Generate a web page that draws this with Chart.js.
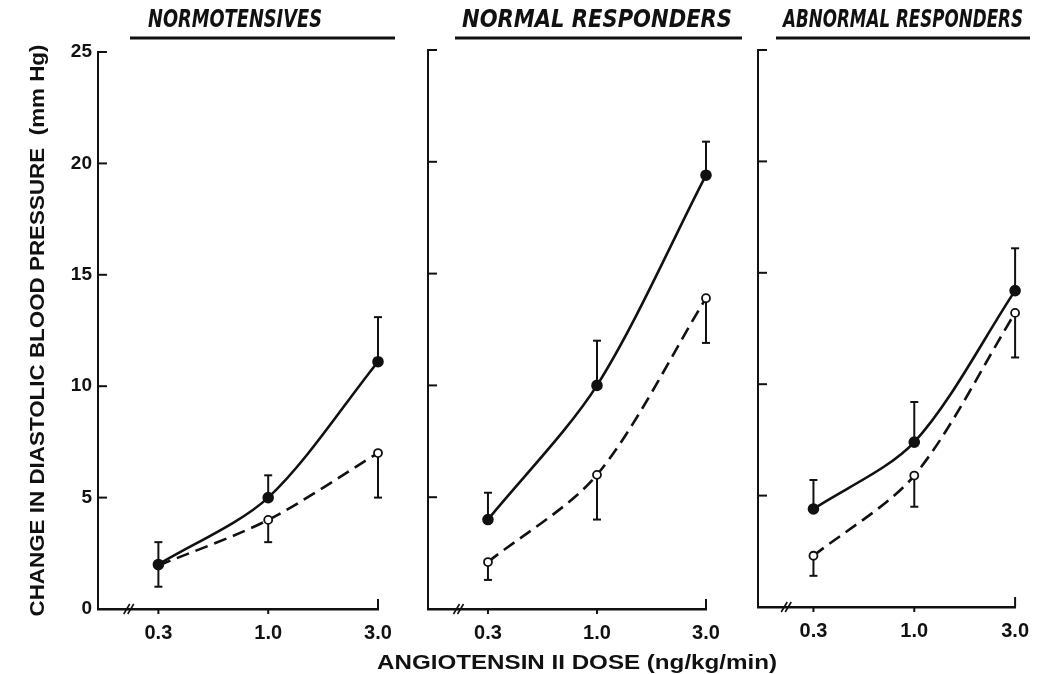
<!DOCTYPE html>
<html>
<head>
<meta charset="utf-8">
<script src="https://cdn.jsdelivr.net/npm/chart.js@4.4.0/dist/chart.umd.min.js"></script>
<style>
  html, body { margin: 0; padding: 0; background: #fff; }
  .panel { position: absolute; left: 0; top: 0; width: 1041px; height: 674px; }
</style>
</head>
<body>
<div class="panel"><canvas id="p1"></canvas></div>
<div class="panel"><canvas id="p2"></canvas></div>
<div class="panel"><canvas id="p3"></canvas></div>
<script>
// dose categories and y ticks
const doses = ['0.3', '1.0', '3.0'];
const yTicks = [0, 5, 10, 15, 20, 25];

// Normotensives: filled = solid line (error bar up), open = dashed (error bar down)
const normoFilled = [2, 5, 11.1];
const normoFilledErr = [1, 1, 2];
const normoOpen = [1.95, 4, 7];
const normoOpenErr = [0.95, 1, 2];

// Normal responders
const normalFilled = [4, 10, 19.4];
const normalFilledErr = [1.2, 2, 1.5];
const normalOpen = [2.1, 6, 13.9];
const normalOpenErr = [0.8, 2, 2];

// Abnormal responders
const abnormalFilled = [4.4, 7.4, 14.2];
const abnormalFilledErr = [1.3, 1.8, 1.9];
const abnormalOpen = [2.3, 5.9, 13.2];
const abnormalOpenErr = [0.9, 1.4, 2];

const ink = '#111';
const labelFont = '"Liberation Sans", Arial, sans-serif';

function line(ctx, x1, y1, x2, y2) {
  ctx.beginPath();
  ctx.moveTo(x1, y1);
  ctx.lineTo(x2, y2);
  ctx.stroke();
}

// text squeezed/stretched to a given width
function fitText(ctx, text, x, y, width) {
  const w = ctx.measureText(text).width;
  ctx.save();
  ctx.translate(x, y);
  ctx.scale(width / w, 1);
  ctx.fillText(text, 0, 0);
  ctx.restore();
}

// error bars, inward ticks, axis break, titles
const deco = {
  id: 'deco',
  beforeDatasetsDraw(chart) {
    const ctx = chart.ctx, xs = chart.scales.x, ys = chart.scales.y;
    ctx.save();
    ctx.strokeStyle = ink;
    ctx.lineWidth = 2;
    chart.data.datasets.forEach(ds => {
      ds.data.forEach((p, i) => {
        const px = xs.getPixelForValue(p.x);
        const y0 = ys.getPixelForValue(p.y);
        const y1 = ys.getPixelForValue(p.y + ds.errDir * ds.err[i]);
        line(ctx, px, y0, px, y1);
        line(ctx, px - 4, y1, px + 4, y1);
      });
    });
    ctx.restore();
  },
  afterDraw(chart, args, o) {
    const ctx = chart.ctx, xs = chart.scales.x, ys = chart.scales.y;
    const a = chart.chartArea;
    ctx.save();
    ctx.strokeStyle = ink;
    ctx.fillStyle = ink;
    ctx.lineWidth = 2;
    // y ticks pointing into the panel
    yTicks.forEach(v => {
      if (v === 0) return;
      const py = ys.getPixelForValue(v);
      line(ctx, a.left, py, a.left + 9, py);
    });
    // x ticks: small downward marks, end cap upward
    doses.forEach((d, i) => {
      const px = xs.getPixelForValue(i);
      if (i === doses.length - 1) line(ctx, px, a.bottom, px, a.bottom - 10);
      else line(ctx, px, a.bottom, px, a.bottom + 5);
    });
    // axis break
    const bx = xs.getPixelForValue(-0.27);
    ctx.lineWidth = 1.6;
    line(ctx, bx - 5, a.bottom + 5, bx + 1, a.bottom - 5);
    line(ctx, bx - 1, a.bottom + 5, bx + 5, a.bottom - 5);
    // panel title with underline
    ctx.font = 'italic bold 25px "Liberation Sans Narrow", "DejaVu Sans Condensed", sans-serif';
    ctx.textAlign = 'center';
    ctx.textBaseline = 'alphabetic';
    fitText(ctx, o.title, o.titleX, 27, o.titleW);
    ctx.lineWidth = 3;
    line(ctx, o.ulFrom, 38, o.ulTo, 38);
    // shared axis titles
    ctx.font = 'bold 20px ' + labelFont;
    ctx.textBaseline = 'middle';
    if (o.yTitle) {
      ctx.save();
      ctx.translate(38, (a.top + a.bottom) / 2);
      ctx.rotate(-Math.PI / 2);
      fitText(ctx, o.yTitle, 0, 0, 572);
      ctx.restore();
    }
    if (o.xTitle) {
      fitText(ctx, o.xTitle, 577, 663, 400);
    }
    ctx.restore();
  }
};

function makePanel(id, filled, filledErr, open, openErr, box, opts) {
  const yW = box.showY ? 40 : 0;
  const xH = 40;
  return new Chart(document.getElementById(id), {
    type: 'line',
    data: {
      datasets: [{
        data: filled.map((v, i) => ({ x: i, y: v })),
        err: filledErr,
        errDir: 1,
        borderColor: ink,
        borderWidth: 2.6,
        pointRadius: 4.5,
        pointBackgroundColor: ink,
        pointBorderColor: ink,
        tension: 0.3,
        clip: false
      }, {
        data: open.map((v, i) => ({ x: i, y: v })),
        err: openErr,
        errDir: -1,
        borderColor: ink,
        borderWidth: 2.6,
        borderDash: [13, 7],
        pointRadius: 4,
        pointBorderWidth: 1.8,
        pointBackgroundColor: '#fff',
        pointBorderColor: ink,
        tension: 0.3,
        clip: false
      }]
    },
    options: {
      responsive: true,
      maintainAspectRatio: false,
      animation: false,
      layout: {
        padding: {
          left: box.l - yW,
          right: 1041 - box.r,
          top: box.t,
          bottom: 674 - box.b - xH
        }
      },
      plugins: {
        legend: { display: false },
        tooltip: { enabled: false },
        deco: opts
      },
      scales: {
        x: {
          type: 'linear',
          min: -0.55,
          max: 2,
          afterBuildTicks: s => { s.ticks = doses.map((d, i) => ({ value: i })); },
          afterFit: s => { s.height = xH; },
          ticks: {
            callback: v => doses[v],
            color: ink,
            padding: 12,
            maxRotation: 0,
            font: { family: labelFont, size: 20, weight: 'bold' }
          },
          grid: { drawOnChartArea: false, drawTicks: false },
          border: { display: true, color: ink, width: 2.4 }
        },
        y: {
          min: 0,
          max: 25,
          afterBuildTicks: s => { s.ticks = yTicks.map(v => ({ value: v })); },
          afterFit: s => { s.width = yW; },
          ticks: {
            display: box.showY,
            color: ink,
            padding: 6,
            font: { family: labelFont, size: 19, weight: 'bold' }
          },
          grid: { drawOnChartArea: false, drawTicks: false },
          border: { display: true, color: ink, width: 2 }
        }
      }
    },
    plugins: [deco]
  });
}

makePanel('p1', normoFilled, normoFilledErr, normoOpen, normoOpenErr,
  { l: 98, r: 378, t: 52, b: 609, showY: true },
  { title: 'NORMOTENSIVES', titleX: 235, titleW: 174, ulFrom: 130, ulTo: 395,
    yTitle: 'CHANGE IN DIASTOLIC BLOOD PRESSURE  (mm Hg)' });
makePanel('p2', normalFilled, normalFilledErr, normalOpen, normalOpenErr,
  { l: 428, r: 706, t: 50, b: 609, showY: false },
  { title: 'NORMAL RESPONDERS', titleX: 597, titleW: 270, ulFrom: 455, ulTo: 742,
    xTitle: 'ANGIOTENSIN II DOSE (ng/kg/min)' });
makePanel('p3', abnormalFilled, abnormalFilledErr, abnormalOpen, abnormalOpenErr,
  { l: 758, r: 1023, t: 50, b: 607, showY: false },
  { title: 'ABNORMAL RESPONDERS', titleX: 903, titleW: 240, ulFrom: 776, ulTo: 1030 });
</script>
</body>
</html>
